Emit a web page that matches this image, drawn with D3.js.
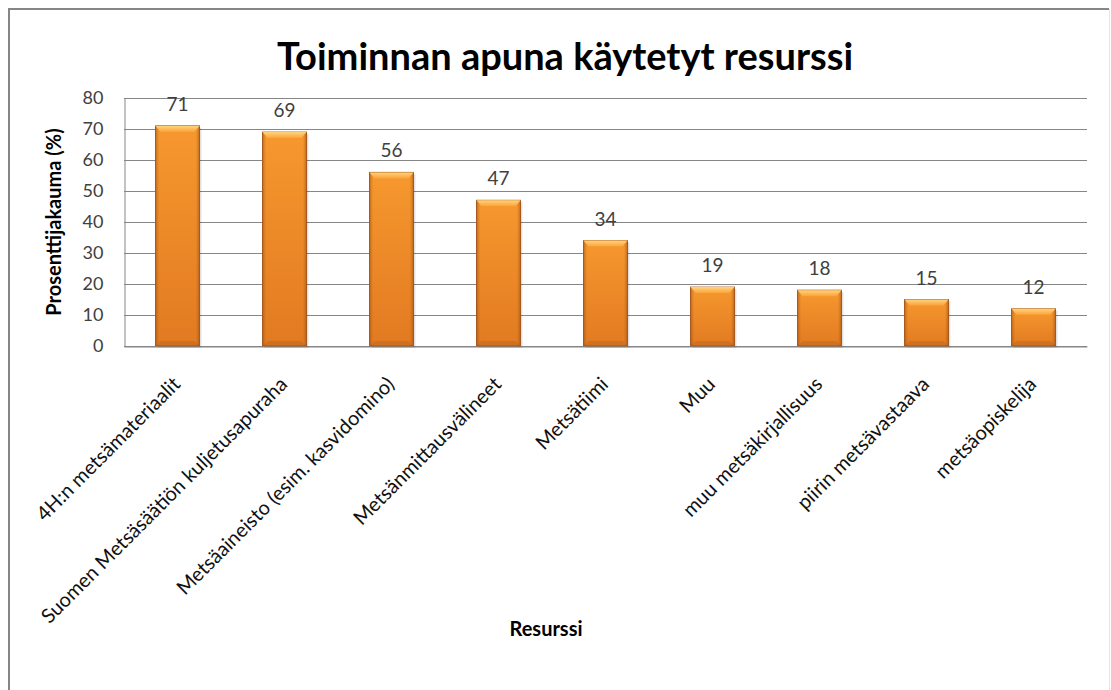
<!DOCTYPE html>
<html>
<head>
<meta charset="utf-8">
<script src="https://cdn.jsdelivr.net/npm/d3@7"></script>
<style>
  body { margin: 0; background: #fff; }
  svg { display: block; font-family: Lato, "Open Sans", sans-serif; }
</style>
</head>
<body>
<div class="chart"></div>
<script>
const categories = [
  "4H:n metsämateriaalit",
  "Suomen Metsäsäätiön kuljetusapuraha",
  "Metsäaineisto (esim. kasvidomino)",
  "Metsänmittausvälineet",
  "Metsätiimi",
  "Muu",
  "muu metsäkirjallisuus",
  "piirin metsävastaava",
  "metsäopiskelija"
];
const values = [71, 69, 56, 47, 34, 19, 18, 15, 12];
const yTicks = [0, 10, 20, 30, 40, 50, 60, 70, 80];

const title = "Toiminnan apuna käytetyt resurssi",
      yTitle = "Prosenttijakauma (%)",
      xTitle = "Resurssi";

const width = 1111, height = 690;
const margin = {top: 98, right: 24, bottom: 344, left: 124};
const textColour = "#404040",
      gridColour = "#868686";

let svg = d3.select(".chart")
  .append("svg")
    .attr("width", width)
    .attr("height", height);

// bar gradients
let defs = svg.append("defs");
let vGrad = defs.append("linearGradient")
    .attr("id", "barV").attr("x1", 0).attr("y1", 0).attr("x2", 0).attr("y2", 1);
vGrad.append("stop").attr("offset", "0%").attr("stop-color", "#fc9c30");
vGrad.append("stop").attr("offset", "100%").attr("stop-color", "#e67d22");
let hGrad = defs.append("linearGradient")
    .attr("id", "barH").attr("x1", 0).attr("y1", 0).attr("x2", 1).attr("y2", 0);
hGrad.append("stop").attr("offset", "0%").attr("stop-color", "#8a4410").attr("stop-opacity", 0.45);
hGrad.append("stop").attr("offset", "8%").attr("stop-color", "#8a4410").attr("stop-opacity", 0.05);
hGrad.append("stop").attr("offset", "92%").attr("stop-color", "#8a4410").attr("stop-opacity", 0.05);
hGrad.append("stop").attr("offset", "100%").attr("stop-color", "#8a4410").attr("stop-opacity", 0.45);
let topGrad = defs.append("linearGradient")
    .attr("id", "barTop").attr("x1", 0).attr("y1", 0).attr("x2", 0).attr("y2", 1);
topGrad.append("stop").attr("offset", "0%").attr("stop-color", "#ffd47c");
topGrad.append("stop").attr("offset", "100%").attr("stop-color", "#fca23a");

// outer frame
svg.append("line").attr("x1", 9).attr("x2", 9).attr("y1", 8).attr("y2", height)
    .attr("stroke", gridColour).attr("stroke-width", 2);
svg.append("line").attr("x1", 8).attr("x2", 1109).attr("y1", 9).attr("y2", 9)
    .attr("stroke", gridColour).attr("stroke-width", 2);
svg.append("line").attr("x1", 1109.5).attr("x2", 1109.5).attr("y1", 9).attr("y2", height)
    .attr("stroke", "#e4e4e4").attr("stroke-width", 1);

let x = d3.scaleBand()
  .domain(categories)
  .range([margin.left, width - margin.right])
  .paddingInner(0.59)
  .paddingOuter(0.295);

let y = d3.scaleLinear()
  .domain([0, 80])
  .range([height - margin.bottom, margin.top]);

// gridlines
svg.append("g")
  .selectAll("line")
  .data(yTicks)
  .join("line")
    .attr("x1", margin.left)
    .attr("x2", width - margin.right)
    .attr("y1", d => Math.round(y(d)) + 0.5)
    .attr("y2", d => Math.round(y(d)) + 0.5)
    .attr("stroke", gridColour)
    .attr("stroke-width", 1);

// y axis
let yAxis = svg.append("g")
  .attr("transform", `translate(${margin.left + 0.5},0)`)
  .call(d3.axisLeft(y).tickValues(yTicks).tickSize(0).tickPadding(21));
yAxis.select(".domain").attr("stroke", gridColour);
yAxis.selectAll("text")
  .attr("font-family", "Lato, sans-serif")
  .attr("font-size", 18)
  .attr("fill", textColour);

// bars
let bars = svg.append("g")
  .selectAll("g")
  .data(values)
  .join("g")
    .attr("transform", (d, i) => `translate(${x(categories[i])},0)`);

bars.append("rect")
  .attr("x", 2).attr("y", d => y(d) + 2)
  .attr("width", x.bandwidth()).attr("height", d => y(0) - y(d))
  .attr("fill", "#000").attr("opacity", 0.12);
bars.append("rect")
  .attr("y", d => y(d))
  .attr("width", x.bandwidth())
  .attr("height", d => y(0) - y(d))
  .attr("fill", "url(#barV)")
  .attr("stroke", "#a9591b")
  .attr("stroke-width", 1);
bars.append("rect")
  .attr("y", d => y(d))
  .attr("width", x.bandwidth())
  .attr("height", d => y(0) - y(d))
  .attr("fill", "url(#barH)");
bars.append("path")
  .attr("d", d => {
    let t = y(d), w = x.bandwidth();
    return `M0,${t}L${w},${t}L${w - 5},${t + 6}L5,${t + 6}Z`;
  })
  .attr("fill", "url(#barTop)");
bars.append("path")
  .attr("d", d => {
    let b = y(0), w = x.bandwidth();
    return `M0,${b}L${w},${b}L${w - 5},${b - 5}L5,${b - 5}Z`;
  })
  .attr("fill", "#a9581a").attr("opacity", 0.3);

// value labels
svg.append("g")
  .attr("font-size", 19)
  .attr("fill", textColour)
  .attr("text-anchor", "middle")
  .selectAll("text")
  .data(values)
  .join("text")
    .attr("x", (d, i) => x(categories[i]) + x.bandwidth() / 2)
    .attr("y", d => y(d) - 15)
    .text(d => d);

// bottom axis with rotated labels
let xAxis = svg.append("g")
  .attr("transform", `translate(0,${y(0) + 0.5})`)
  .call(d3.axisBottom(x).tickSize(0).tickPadding(0));
xAxis.select(".domain").attr("stroke", gridColour);
xAxis.selectAll("text")
  .attr("font-family", "Lato, sans-serif")
  .attr("font-size", 20)
  .attr("fill", "#111")
  .attr("text-anchor", "end")
  .attr("dy", null)
  .attr("y", 0)
  .attr("transform", "translate(4,39) rotate(-45)");

// titles
svg.append("text")
  .attr("x", 565)
  .attr("y", 70)
  .attr("text-anchor", "middle")
  .attr("font-size", 38)
  .attr("font-weight", "bold")
  .attr("fill", "#000")
  .text(title);

svg.append("text")
  .attr("transform", `translate(61,${(y(0) + y(80)) / 2}) rotate(-90)`)
  .attr("text-anchor", "middle")
  .attr("font-size", 20)
  .attr("font-weight", "bold")
  .attr("fill", "#000")
  .text(yTitle);

svg.append("text")
  .attr("x", 546)
  .attr("y", 636)
  .attr("text-anchor", "middle")
  .attr("font-size", 20)
  .attr("font-weight", "bold")
  .attr("fill", "#000")
  .text(xTitle);
</script>
</body>
</html>
